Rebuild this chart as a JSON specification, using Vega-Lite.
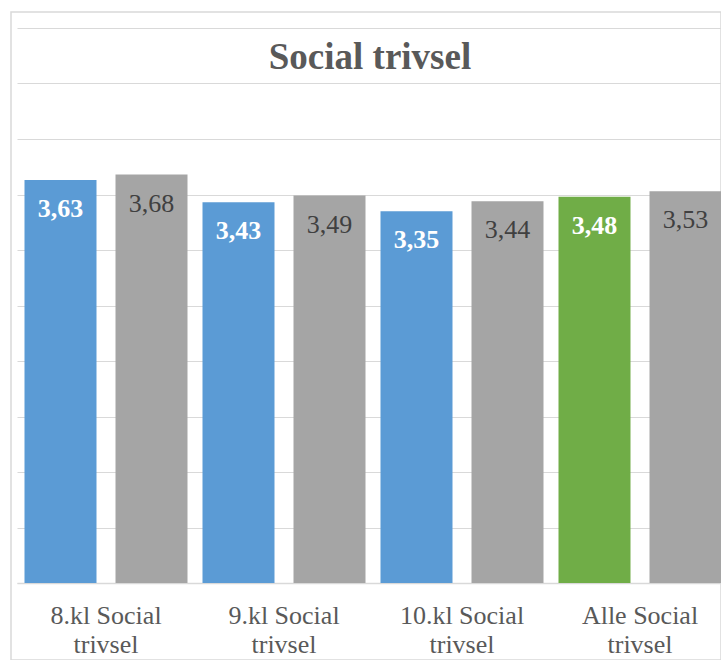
{
  "$schema": "https://vega.github.io/schema/vega-lite/v6.json",
  "width": 710,
  "height": 648,
  "autosize": {"type": "none"},
  "padding": {"left": 11, "top": 12, "right": 0, "bottom": 0},
  "background": "white",
  "config": {
    "view": {"stroke": "#d9d9d9", "strokeWidth": 1.5},
    "font": "Liberation Serif",
    "locale": {"number": {"decimal": ",", "thousands": ".", "grouping": [3], "currency": ["", " kr."]}}
  },
  "title": {
    "text": "Social trivsel",
    "font": "Liberation Serif",
    "fontSize": 37,
    "fontWeight": "bold",
    "color": "#595959",
    "anchor": "middle",
    "baseline": "alphabetic",
    "offset": -94,
    "dx": 4
  },
  "data": {
    "values": [
      {"klasse": "8.kl Social trivsel", "serie": "Skole", "type": "Klasse", "vaerdi": 3.63},
      {"klasse": "8.kl Social trivsel", "serie": "Sammenligning", "type": "Sammenligning", "vaerdi": 3.68},
      {"klasse": "9.kl Social trivsel", "serie": "Skole", "type": "Klasse", "vaerdi": 3.43},
      {"klasse": "9.kl Social trivsel", "serie": "Sammenligning", "type": "Sammenligning", "vaerdi": 3.49},
      {"klasse": "10.kl Social trivsel", "serie": "Skole", "type": "Klasse", "vaerdi": 3.35},
      {"klasse": "10.kl Social trivsel", "serie": "Sammenligning", "type": "Sammenligning", "vaerdi": 3.44},
      {"klasse": "Alle Social trivsel", "serie": "Skole", "type": "Alle", "vaerdi": 3.48},
      {"klasse": "Alle Social trivsel", "serie": "Sammenligning", "type": "Sammenligning", "vaerdi": 3.53}
    ]
  },
  "encoding": {
    "x": {
      "field": "klasse",
      "type": "nominal",
      "sort": null,
      "scale": {"range": [6, 718], "paddingInner": 0, "paddingOuter": 0},
      "axis": {
        "title": null,
        "orient": "bottom",
        "offset": -77,
        "ticks": false,
        "tickSize": 0,
        "domain": true,
        "domainColor": "#d9d9d9",
        "domainWidth": 1.5,
        "labelAngle": 0,
        "labelFont": "Liberation Serif",
        "labelFontSize": 26,
        "labelColor": "#595959",
        "labelBaseline": "top",
        "labelPadding": 19,
        "labelLineHeight": 29,
        "labelExpr": "[replace(datum.label, ' trivsel', ''), 'trivsel']"
      }
    },
    "xOffset": {
      "field": "serie",
      "type": "nominal",
      "sort": ["Skole", "Sammenligning"],
      "scale": {"paddingInner": 0.2088, "paddingOuter": 0.0824}
    },
    "y": {
      "field": "vaerdi",
      "type": "quantitative",
      "scale": {"domain": [0, 5], "range": [571, 16], "nice": false, "zero": true},
      "axis": {
        "title": null,
        "values": [0, 0.5, 1, 1.5, 2, 2.5, 3, 3.5, 4, 4.5, 5],
        "grid": true,
        "gridColor": "#d9d9d9",
        "gridWidth": 1.2,
        "labels": false,
        "ticks": false,
        "domain": false
      }
    }
  },
  "layer": [
    {
      "mark": {"type": "bar"},
      "encoding": {
        "color": {
          "field": "type",
          "type": "nominal",
          "scale": {"domain": ["Klasse", "Alle", "Sammenligning"], "range": ["#5b9bd5", "#70ad47", "#a5a5a5"]},
          "legend": null
        }
      }
    },
    {
      "transform": [{"filter": "datum.serie == 'Skole'"}],
      "mark": {"type": "text", "font": "Liberation Serif", "fontSize": 26, "fontWeight": "bold", "color": "#ffffff", "baseline": "alphabetic", "dy": 37},
      "encoding": {"text": {"field": "vaerdi", "type": "quantitative", "format": ".2f"}}
    },
    {
      "transform": [{"filter": "datum.serie == 'Sammenligning'"}],
      "mark": {"type": "text", "font": "Liberation Serif", "fontSize": 26, "fontWeight": "normal", "color": "#404040", "baseline": "alphabetic", "dy": 37},
      "encoding": {"text": {"field": "vaerdi", "type": "quantitative", "format": ".2f"}}
    }
  ]
}
